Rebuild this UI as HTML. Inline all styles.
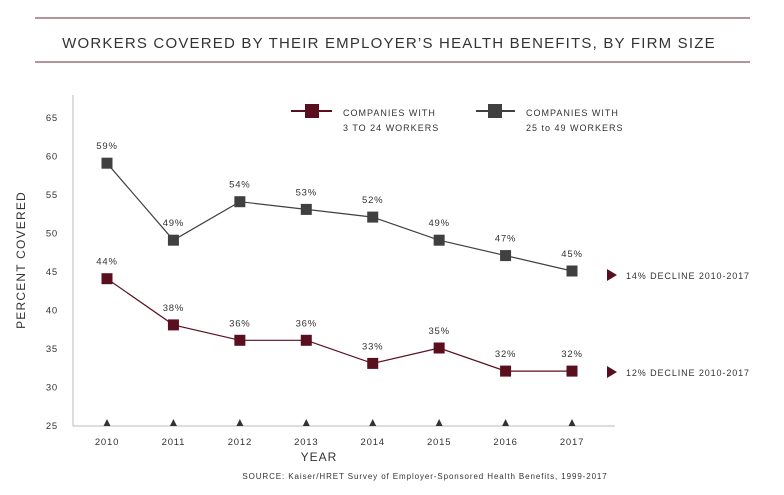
<!DOCTYPE html>
<html><head><meta charset="utf-8"><style>
body{margin:0;background:#fff;}
svg text{font-family:"Liberation Sans",sans-serif;fill:#333;}
</style></head><body>
<svg width="784" height="490" xmlns="http://www.w3.org/2000/svg">
<line x1="35" y1="18" x2="750" y2="18" stroke="#6b2a35" stroke-width="1"/>
<line x1="35" y1="62" x2="750" y2="62" stroke="#6b2a35" stroke-width="1"/>
<text x="389" y="48" text-anchor="middle" font-size="15" letter-spacing="1.2" fill="#333">WORKERS COVERED BY THEIR EMPLOYER’S HEALTH BENEFITS, BY FIRM SIZE</text>
<line x1="73" y1="95" x2="73" y2="426" stroke="#bbb"/>
<line x1="73" y1="426" x2="615" y2="426" stroke="#bbb"/>
<text transform="translate(25,260) rotate(-90)" text-anchor="middle" font-size="12" letter-spacing="1.2">PERCENT COVERED</text>
<text x="319" y="461" text-anchor="middle" font-size="12" letter-spacing="1">YEAR</text>
<text x="425" y="479" text-anchor="middle" font-size="8" letter-spacing="0.9">SOURCE: Kaiser/HRET Survey of Employer-Sponsored Health Benefits, 1999-2017</text>
<g id="g"></g>
<g>
<line x1="291" y1="111" x2="332" y2="111" stroke="#5a0f1e" stroke-width="2"/>
<rect x="305" y="104" width="14" height="14" fill="#5a0f1e"/>
<text x="343" y="116" font-size="9" letter-spacing="1">COMPANIES WITH</text>
<text x="343" y="131" font-size="9" letter-spacing="1">3 TO 24 WORKERS</text>
<line x1="476" y1="111" x2="515" y2="111" stroke="#404040" stroke-width="2"/>
<rect x="488" y="104" width="14" height="14" fill="#404040"/>
<text x="526" y="116" font-size="9" letter-spacing="1">COMPANIES WITH</text>
<text x="526" y="131" font-size="9" letter-spacing="1">25 to 49 WORKERS</text>
</g>
<g>
<polygon points="607,269 617,275 607,281" fill="#5a0f1e"/>
<text x="626" y="279" font-size="9" letter-spacing="0.9">14% DECLINE 2010-2017</text>
</g>
<g>
<polygon points="607,366 617,372 607,378" fill="#5a0f1e"/>
<text x="626" y="376" font-size="9" letter-spacing="0.9">12% DECLINE 2010-2017</text>
</g>
</svg>
<script>
const years=[2010,2011,2012,2013,2014,2015,2016,2017];
const small=[44,38,36,36,33,35,32,32];
const large=[59,49,54,53,52,49,47,45];
const yTicks=[25,30,35,40,45,50,55,60,65];
const NS="http://www.w3.org/2000/svg";
const g=document.getElementById('g');
const x=i=>107+i*66.43;
const y=v=>425-(v-25)*7.7;
function mk(t,a){const e=document.createElementNS(NS,t);for(const k in a)e.setAttribute(k,a[k]);g.appendChild(e);return e;}
yTicks.forEach(v=>{const t=mk('text',{x:58,y:y(v)+4,'text-anchor':'end','font-size':9.5,'letter-spacing':0.8});t.textContent=v;

});
years.forEach((yr,i)=>{const t=mk('text',{x:x(i),y:445,'text-anchor':'middle','font-size':9.5,'letter-spacing':0.8});t.textContent=yr;


const p=mk('polygon',{points:`${x(i)-3.5},${426} ${x(i)},${419} ${x(i)+3.5},${426}`,fill:'#333'});

});
function series(d,c,name){
const l=mk('polyline',{points:d.map((v,i)=>x(i)+','+y(v)).join(' '),fill:'none',stroke:c,'stroke-width':1.2});


d.forEach((v,i)=>{const r=mk('rect',{x:x(i)-5.5,y:y(v)-5.5,width:11,height:11,fill:c});


const t=mk('text',{x:x(i),y:y(v)-14,'text-anchor':'middle','font-size':9.5,'letter-spacing':0.8});t.textContent=v+'%';

});}
series(large,'#404040','large-firms');
series(small,'#5a0f1e','small-firms');
</script>
</body></html>
